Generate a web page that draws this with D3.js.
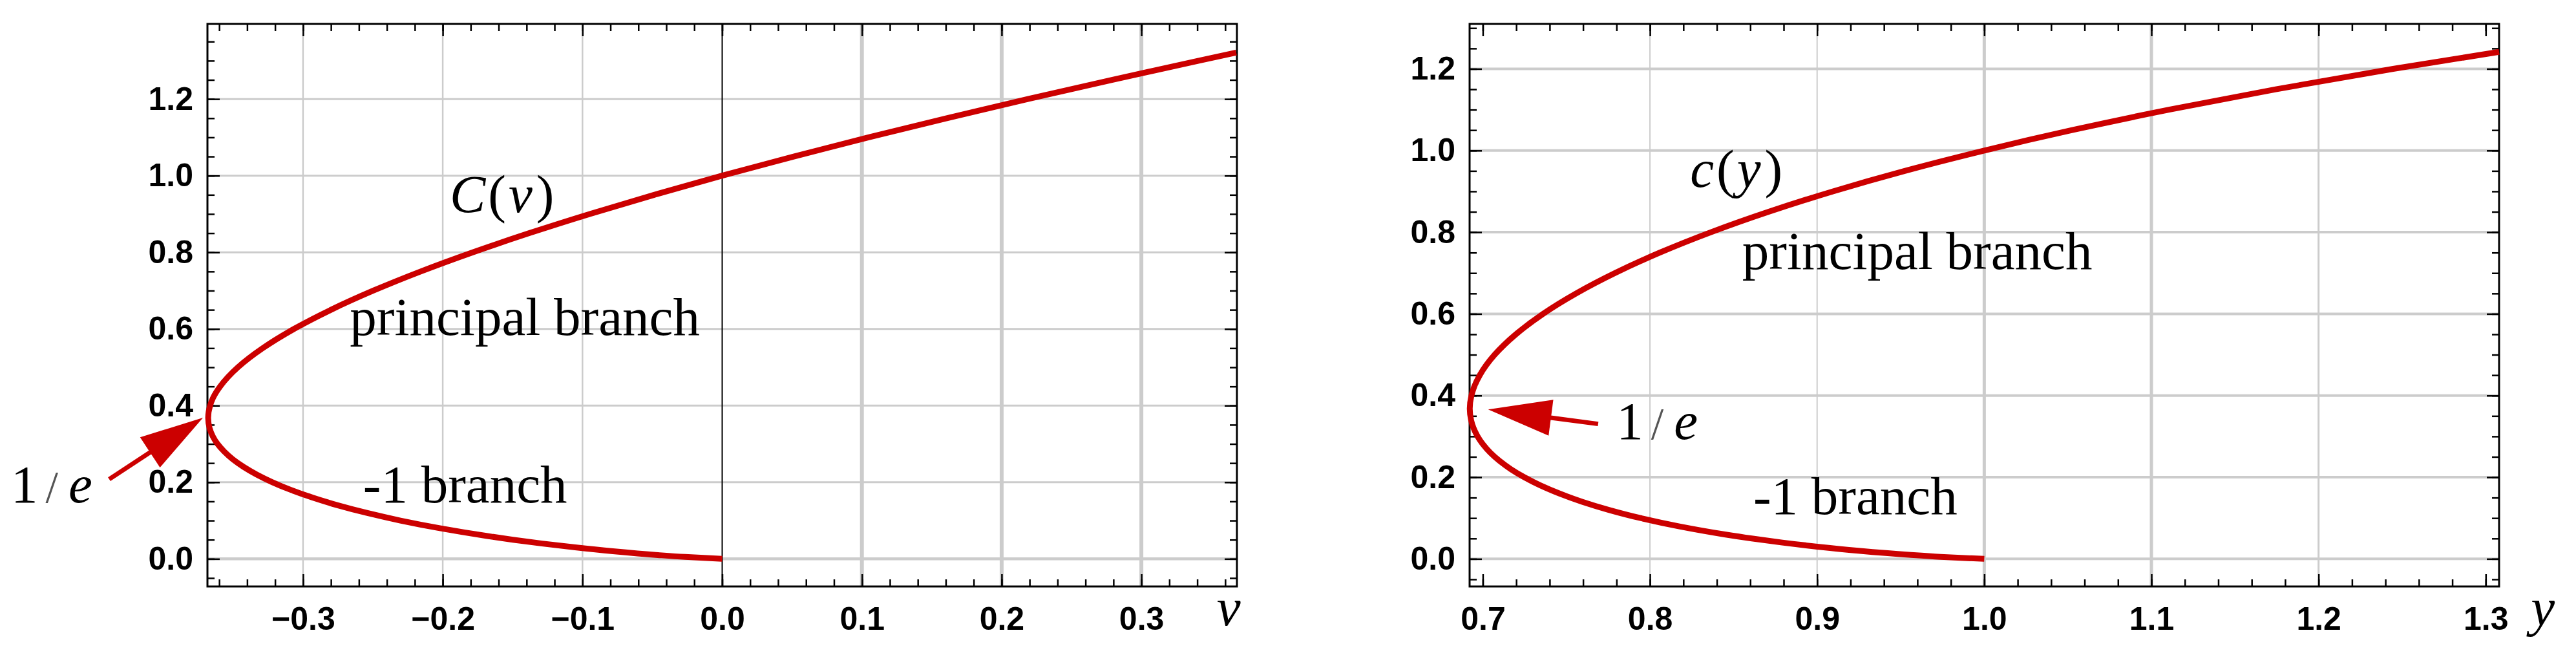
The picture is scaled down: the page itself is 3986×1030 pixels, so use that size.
<!DOCTYPE html>
<html>
<head>
<meta charset="utf-8">
<script src="https://cdn.jsdelivr.net/npm/d3@7"></script>
<style>
  html, body { margin: 0; padding: 0; background: #fff; }
  svg { display: block; }
</style>
</head>
<body>
<div id="chart"></div>
<script>
// ---- data ----
// left panel: C(v), both branches, ordered along the curve (C increasing)
const leftC = [0, 0.005, 0.01, 0.02, 0.03, 0.04, 0.05, 0.06, 0.08, 0.10, 0.12, 0.14, 0.16, 0.18, 0.20,
  0.22, 0.24, 0.26, 0.28, 0.30, 0.32, 0.34, 0.3679, 0.40, 0.42, 0.45, 0.50, 0.55, 0.60, 0.65, 0.70,
  0.75, 0.80, 0.85, 0.90, 0.95, 1.00, 1.05, 1.10, 1.15, 1.20, 1.25, 1.30, 1.3211];
const leftV = [0, -0.0265, -0.0461, -0.0782, -0.1052, -0.1288, -0.1498, -0.1688, -0.2021, -0.2303, -0.2544,
  -0.2753, -0.2932, -0.3087, -0.3219, -0.3331, -0.3425, -0.3503, -0.3564, -0.3612, -0.3646, -0.3668,
  -0.3679, -0.3665, -0.3644, -0.3593, -0.3466, -0.3288, -0.3065, -0.2800, -0.2497, -0.2158, -0.1785,
  -0.1381, -0.0948, -0.0487, 0, 0.0512, 0.1048, 0.1607, 0.2188, 0.2789, 0.3411, 0.3679];

// right panel: c(y)
const rightC = [0, 0.005, 0.01, 0.02, 0.03, 0.04, 0.05, 0.06, 0.08, 0.10, 0.12, 0.14, 0.16, 0.18, 0.20,
  0.22, 0.24, 0.26, 0.28, 0.30, 0.32, 0.34, 0.3679, 0.40, 0.42, 0.45, 0.50, 0.55, 0.60, 0.65, 0.70,
  0.75, 0.80, 0.85, 0.90, 0.95, 1.00, 1.05, 1.10, 1.15, 1.20, 1.2415];
const rightY = [1, 0.9739, 0.9550, 0.9247, 0.9001, 0.8792, 0.8609, 0.8447, 0.8171, 0.7943, 0.7754, 0.7594,
  0.7459, 0.7344, 0.7248, 0.7167, 0.7100, 0.7045, 0.7002, 0.6969, 0.6945, 0.6930, 0.6922, 0.6932, 0.6947,
  0.6982, 0.7071, 0.7198, 0.7360, 0.7558, 0.7791, 0.8059, 0.8365, 0.8710, 0.9095, 0.9524, 1.0, 1.0526,
  1.1105, 1.1744, 1.2446, 1.308];

// ticks
const leftXTicks = [-0.3, -0.2, -0.1, 0, 0.1, 0.2, 0.3];
const leftXLabels = ['\u22120.3', '\u22120.2', '\u22120.1', '0.0', '0.1', '0.2', '0.3'];
const rightXTicks = [0.7, 0.8, 0.9, 1.0, 1.1, 1.2, 1.3];
const rightXLabels = ['0.7', '0.8', '0.9', '1.0', '1.1', '1.2', '1.3'];
const yTicks = [0, 0.2, 0.4, 0.6, 0.8, 1.0, 1.2];
const yLabels = ['0.0', '0.2', '0.4', '0.6', '0.8', '1.0', '1.2'];

// ---- drawing ----
const width = 3986, height = 1030;
const red = '#cc0000';
const serif = '"Liberation Serif", "Times New Roman", serif';
const sans = '"Liberation Sans", Arial, sans-serif';

const svg = d3.select('#chart')
  .append('svg')
  .attr('width', width)
  .attr('height', height)
  .style('background', '#fff');

svg.append('rect').attr('width', width).attr('height', height).attr('fill', '#fff');

function drawPanel(p) {
  const x = d3.scaleLinear().domain(p.xDomain).range([p.left, p.right]);
  const y = d3.scaleLinear().domain(p.yDomain).range([p.bottom, p.top]);
  const g = svg.append('g');

  // grid lines
  g.append('g').selectAll('line')
    .data(p.xGrid)
    .enter()
    .append('line')
    .attr('x1', d => x(d)).attr('x2', d => x(d))
    .attr('y1', p.top).attr('y2', p.bottom)
    .attr('stroke', '#cccccc')
    .attr('stroke-width', (_, i) => p.xGridWidth[i]);
  g.append('g').selectAll('line')
    .data(yTicks)
    .enter()
    .append('line')
    .attr('x1', p.left).attr('x2', p.right)
    .attr('y1', d => y(d)).attr('y2', d => y(d))
    .attr('stroke', '#cccccc')
    .attr('stroke-width', (_, i) => p.yGridWidth[i]);

  // vertical axis line at x = 0 (left panel only)
  if (p.zeroAxis) {
    g.append('line')
      .attr('x1', x(0)).attr('x2', x(0))
      .attr('y1', p.top).attr('y2', p.bottom)
      .attr('stroke', '#000').attr('stroke-width', 2);
  }

  const styleAxis = sel => {
    sel.select('.domain').remove();
    sel.selectAll('line').attr('stroke', '#000').attr('stroke-width', 2.5);
    sel.selectAll('text')
      .attr('fill', '#000')
      .style('font-family', sans)
      .style('font-weight', 'bold')
      .style('font-size', '50px');
  };

  // major ticks with labels
  g.append('g')
    .attr('transform', `translate(0,${p.bottom})`)
    .call(d3.axisBottom(x).tickValues(p.xTicks).tickFormat((_, i) => p.xLabels[i])
      .tickSizeInner(-19).tickSizeOuter(0).tickPadding(31))
    .call(styleAxis);
  g.append('g')
    .attr('transform', `translate(${p.left},0)`)
    .call(d3.axisLeft(y).tickValues(yTicks).tickFormat((_, i) => yLabels[i])
      .tickSizeInner(-19).tickSizeOuter(0).tickPadding(22))
    .call(styleAxis);
  // mirrored ticks on top and right
  g.append('g')
    .attr('transform', `translate(0,${p.top})`)
    .call(d3.axisTop(x).tickValues(p.xTicks).tickFormat('').tickSize(-19))
    .call(styleAxis);
  g.append('g')
    .attr('transform', `translate(${p.right},0)`)
    .call(d3.axisRight(y).tickValues(yTicks).tickFormat('').tickSize(-19))
    .call(styleAxis);

  // minor ticks
  g.append('g')
    .attr('transform', `translate(0,${p.bottom})`)
    .call(d3.axisBottom(x).tickValues(p.xMinor).tickFormat('').tickSize(-11))
    .call(styleAxis);
  g.append('g')
    .attr('transform', `translate(0,${p.top})`)
    .call(d3.axisTop(x).tickValues(p.xMinor).tickFormat('').tickSize(-11))
    .call(styleAxis);
  g.append('g')
    .attr('transform', `translate(${p.left},0)`)
    .call(d3.axisLeft(y).tickValues(p.yMinor).tickFormat('').tickSize(-11))
    .call(styleAxis);
  g.append('g')
    .attr('transform', `translate(${p.right},0)`)
    .call(d3.axisRight(y).tickValues(p.yMinor).tickFormat('').tickSize(-11))
    .call(styleAxis);

  // frame
  g.append('rect')
    .attr('x', p.left).attr('y', p.top)
    .attr('width', p.right - p.left).attr('height', p.bottom - p.top)
    .attr('fill', 'none').attr('stroke', '#000').attr('stroke-width', 3);

  // the curve
  const pts = p.xs.map((d, i) => [d, p.cs[i]]);
  const line = d3.line()
    .x(d => x(d[0]))
    .y(d => y(d[1]))
    .curve(d3.curveMonotoneY);
  g.append('path')
    .attr('d', line(pts))
    .attr('fill', 'none')
    .attr('stroke', red)
    .attr('stroke-width', 9);

  // arrow pointing at 1/e
  const [tx, ty] = [x(p.arrowTip[0]), y(p.arrowTip[1])];
  const [sx, sy] = [x(p.arrowTail[0]), y(p.arrowTail[1])];
  const len = Math.hypot(tx - sx, ty - sy);
  const ux = (tx - sx) / len, uy = (ty - sy) / len;
  const headL = 98, headW = 28;
  const bx = tx - ux * headL, by = ty - uy * headL;
  g.append('line')
    .attr('x1', sx).attr('y1', sy)
    .attr('x2', bx + ux * 10).attr('y2', by + uy * 10)
    .attr('stroke', red).attr('stroke-width', 7);
  g.append('path')
    .attr('d', `M${tx},${ty}L${bx - uy * headW},${by + ux * headW}L${bx + uy * headW},${by - ux * headW}Z`)
    .attr('fill', red);

  // labels
  const label = (pos, size) => g.append('text')
    .attr('x', x(pos[0])).attr('y', y(pos[1]))
    .style('font-family', serif).style('font-size', size + 'px')
    .attr('fill', '#000');

  const fn = label(p.fnPos, 83);
  fn.append('tspan').style('font-style', 'italic').text(p.fnName);
  fn.append('tspan').attr('dx', 4).text('(');
  fn.append('tspan').attr('dx', 4).style('font-style', 'italic').text(p.varName);
  fn.append('tspan').attr('dx', 6).text(')');

  label(p.principalPos, 83).text('principal branch');
  label(p.minusPos, 83).text('-1 branch');

  const inv = label(p.invPos, 83);
  inv.append('tspan').text('1');
  inv.append('tspan').attr('dx', 12).style('font-size', '70px').attr('fill', '#555').text('/');
  inv.append('tspan').attr('dx', 16).style('font-style', 'italic').text('e');

  label(p.axisPos, 83).style('font-style', 'italic').text(p.varName);
}

drawPanel({
  left: 321, right: 1914, top: 37, bottom: 907,
  xDomain: [-0.3684, 0.3684], yDomain: [-0.072, 1.396],
  xTicks: leftXTicks, xLabels: leftXLabels,
  xGrid: [-0.3, -0.2, -0.1, 0.1, 0.2, 0.3],
  xGridWidth: [2.5, 2.5, 2.5, 6, 6, 6],
  yGridWidth: [4.5, 3, 3, 3, 3, 3, 3],
  xMinor: d3.range(-0.36, 0.3601, 0.02),
  yMinor: d3.range(-0.05, 1.3501, 0.05),
  zeroAxis: true,
  xs: leftV, cs: leftC,
  arrowTip: [-0.3716, 0.3685], arrowTail: [-0.4387, 0.208],
  fnName: 'C', varName: 'v',
  fnPos: [-0.1950, 0.905],
  principalPos: [-0.2665, 0.5846],
  minusPos: [-0.2570, 0.1479],
  invPos: [-0.5090, 0.1474],
  axisPos: [0.3540, -0.173]
});

drawPanel({
  left: 2274, right: 3867, top: 37, bottom: 907,
  xDomain: [0.6921, 1.308], yDomain: [-0.0675, 1.310],
  xTicks: rightXTicks, xLabels: rightXLabels,
  xGrid: [0.8, 0.9, 1.0, 1.1, 1.2],
  xGridWidth: [2, 2, 5, 5, 3],
  yGridWidth: [4, 4, 4, 4, 4, 4, 4],
  xMinor: d3.range(0.70, 1.3001, 0.02),
  yMinor: d3.range(-0.05, 1.3001, 0.05),
  zeroAxis: false,
  xs: rightY, cs: rightC,
  arrowTip: [0.7032, 0.3658], arrowTail: [0.7690, 0.3305],
  fnName: 'c', varName: 'y',
  fnPos: [0.8240, 0.9114],
  principalPos: [0.8552, 0.7096],
  minusPos: [0.8618, 0.1101],
  invPos: [0.7800, 0.2940],
  axisPos: [1.3270, -0.1627]
});
</script>
</body>
</html>
